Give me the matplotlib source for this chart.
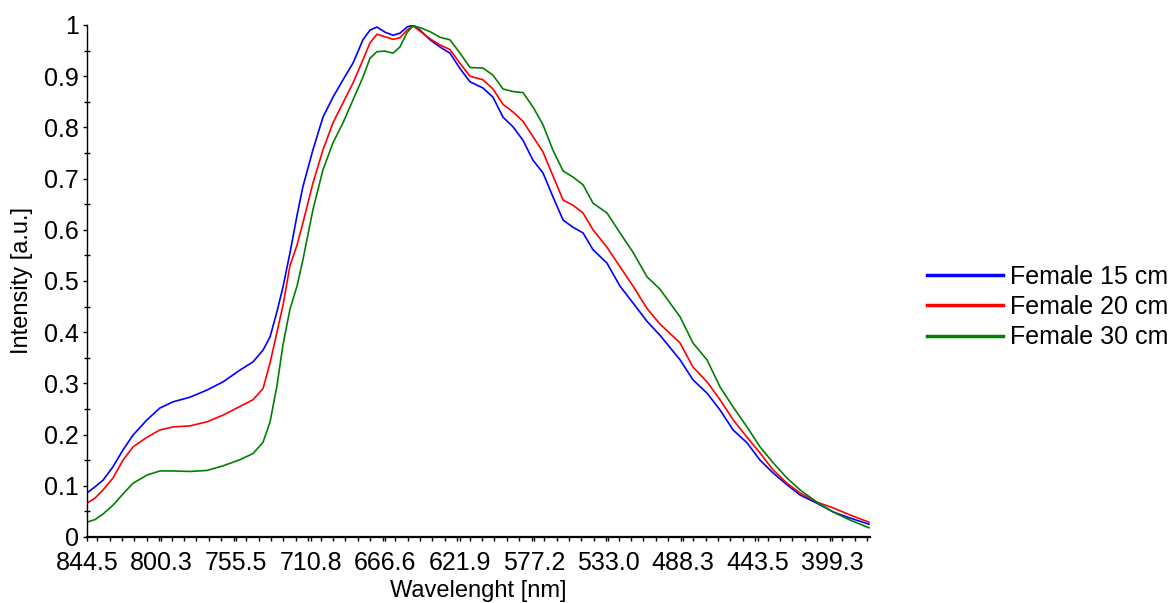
import matplotlib
matplotlib.use("Agg")
import matplotlib.pyplot as plt
from matplotlib.ticker import FixedLocator, MultipleLocator, FuncFormatter

plt.rcParams['font.family'] = ['Liberation Sans', 'DejaVu Sans']

# wavelength samples (nm)
wavelength = [844.5, 839.7, 834.9, 829.0, 823.0, 817.0, 808.6, 800.9, 793.1, 783.0,
              772.8, 763.2, 753.1, 745.3, 739.3, 735.1, 731.0, 727.4, 723.2, 719.0,
              715.5, 709.5, 703.5, 697.5, 691.5, 685.5, 679.6, 675.4, 671.2, 666.4,
              661.6, 657.5, 653.3, 649.7, 645.5, 639.5, 633.5, 627.6, 621.6, 615.6,
              607.9, 601.9, 595.9, 589.9, 584.0, 578.0, 572.0, 566.0, 560.0, 554.1,
              548.1, 542.1, 533.8, 526.0, 518.2, 509.8, 502.1, 490.1, 482.4, 474.0,
              466.2, 458.4, 450.1, 442.3, 434.5, 426.2, 418.4, 408.3, 398.7, 388.5,
              377.2]

female_15 = [0.086, 0.098, 0.111, 0.137, 0.170, 0.199, 0.229, 0.252, 0.264, 0.273,
             0.287, 0.303, 0.326, 0.342, 0.365, 0.391, 0.440, 0.488, 0.555, 0.628,
             0.684, 0.756, 0.820, 0.859, 0.893, 0.926, 0.971, 0.990, 0.996, 0.986,
             0.980, 0.984, 0.996, 1.000, 0.990, 0.971, 0.957, 0.945, 0.915, 0.889,
             0.877, 0.859, 0.820, 0.801, 0.775, 0.736, 0.711, 0.664, 0.619, 0.605,
             0.594, 0.561, 0.535, 0.490, 0.457, 0.421, 0.394, 0.346, 0.307, 0.281,
             0.248, 0.209, 0.184, 0.150, 0.125, 0.102, 0.082, 0.066, 0.049, 0.037,
             0.025]

female_20 = [0.066, 0.076, 0.092, 0.115, 0.150, 0.176, 0.195, 0.209, 0.215, 0.217,
             0.225, 0.238, 0.255, 0.268, 0.290, 0.340, 0.400, 0.452, 0.530, 0.570,
             0.613, 0.691, 0.756, 0.809, 0.848, 0.887, 0.932, 0.965, 0.982, 0.977,
             0.972, 0.975, 0.990, 0.998, 0.988, 0.973, 0.961, 0.952, 0.925, 0.900,
             0.893, 0.875, 0.845, 0.830, 0.812, 0.782, 0.752, 0.705, 0.658, 0.648,
             0.633, 0.600, 0.566, 0.528, 0.490, 0.446, 0.416, 0.379, 0.332, 0.303,
             0.268, 0.229, 0.195, 0.164, 0.131, 0.105, 0.086, 0.068, 0.057, 0.043,
             0.029]

female_30 = [0.029, 0.034, 0.045, 0.062, 0.084, 0.105, 0.121, 0.129, 0.129, 0.128,
             0.130, 0.139, 0.151, 0.163, 0.185, 0.225, 0.295, 0.375, 0.445, 0.490,
             0.541, 0.639, 0.717, 0.770, 0.809, 0.854, 0.898, 0.935, 0.948, 0.949,
             0.945, 0.957, 0.985, 0.998, 0.995, 0.987, 0.976, 0.971, 0.945, 0.917,
             0.916, 0.902, 0.875, 0.870, 0.868, 0.840, 0.805, 0.755, 0.715, 0.703,
             0.688, 0.652, 0.633, 0.594, 0.556, 0.508, 0.484, 0.430, 0.379, 0.346,
             0.293, 0.254, 0.215, 0.176, 0.145, 0.115, 0.092, 0.068, 0.049, 0.033,
             0.018]

series = [("Female 15 cm", female_15, "#0000ff"),
          ("Female 20 cm", female_20, "#ff0000"),
          ("Female 30 cm", female_30, "#008000")]

x_ticks = [844.5, 800.3, 755.5, 710.8, 666.6, 621.9, 577.2, 533.0, 488.3, 443.5, 399.3]

fig = plt.figure(figsize=(11.76, 6.03), dpi=100)
ax = fig.add_axes([87 / 1176, 1 - 537 / 603, (870 - 87) / 1176, (537 - 25) / 603])

for label, vals, color in series:
    ax.plot(wavelength, vals, color=color, linewidth=1.2, label=label)

ax.set_xlim(844.5, 376.6)
ax.set_ylim(0, 1)

ax.xaxis.set_major_locator(FixedLocator(x_ticks))
ax.set_xticklabels([f"{t:.1f}" for t in x_ticks])
ax.xaxis.set_minor_locator(MultipleLocator(7.42))
ax.yaxis.set_major_locator(MultipleLocator(0.1))
ax.yaxis.set_minor_locator(MultipleLocator(0.05))
ax.yaxis.set_major_formatter(FuncFormatter(lambda v, p: f"{v:g}"))

ax.spines['top'].set_visible(False)
ax.spines['right'].set_visible(False)
ax.spines['bottom'].set_linewidth(1.6)
ax.spines['left'].set_linewidth(1.0)

ax.tick_params(axis='both', which='major', labelsize=18, length=3, width=1)
ax.tick_params(axis='x', which='major', pad=7)
ax.tick_params(axis='y', which='major', pad=3)
ax.tick_params(axis='y', which='minor', direction='inout', length=4, width=1)
ax.tick_params(axis='x', which='minor', length=3, width=1)

ax.set_xlabel("Wavelenght [nm]", fontsize=17, labelpad=4)
ax.set_ylabel("Intensity [a.u.]", fontsize=17, labelpad=8)

leg = fig.legend(loc='center left', bbox_to_anchor=(927 / 1176, 1 - 307 / 603),
                 frameon=False, fontsize=18, handlelength=3.04, handletextpad=0.28,
                 labelspacing=0.26, borderpad=0, borderaxespad=0)
for line in leg.get_lines():
    line.set_linewidth(2.5)

fig.savefig("out.png", dpi=100)
